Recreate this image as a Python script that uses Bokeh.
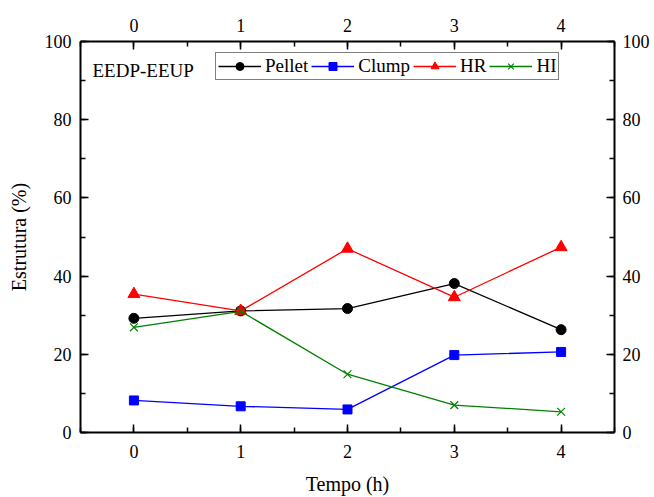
from bokeh.plotting import figure
from bokeh.models import (LinearAxis, SingleIntervalTicker, Range1d, Label,
                          Legend, LegendItem)
from bokeh.embed import file_html
from bokeh.resources import INLINE

# Structure fractions (%) over time (h)
tempo = [0, 1, 2, 3, 4]
pellet = [29.2, 31.1, 31.7, 38.1, 26.3]
clump = [8.2, 6.7, 5.9, 19.8, 20.6]
hr = [35.4, 31.1, 47.0, 34.6, 47.4]
hi = [26.9, 31.0, 14.9, 7.0, 5.3]

FONT = "Liberation Serif"

p = figure(width=654, height=497, output_backend="svg", toolbar_location=None,
           x_range=Range1d(-0.5, 4.5), y_range=Range1d(0, 100),
           min_border_left=80, min_border_right=40, min_border_top=41,
           min_border_bottom=63, x_axis_location=None, y_axis_location=None)
p.xgrid.visible = False
p.ygrid.visible = False
p.outline_line_color = None
p.background_fill_color = "white"


def style_axis(ax, interval):
    ax.ticker = SingleIntervalTicker(interval=interval, num_minor_ticks=2)
    ax.axis_line_width = 2
    ax.axis_line_color = "black"
    ax.major_tick_in = 8
    ax.major_tick_out = 0
    ax.minor_tick_in = 5
    ax.minor_tick_out = 0
    ax.major_tick_line_width = 1.5
    ax.minor_tick_line_width = 1.5
    ax.major_label_text_font = FONT
    ax.major_label_text_font_size = "18px"
    ax.major_label_text_color = "black"
    ax.axis_label_text_font = FONT
    ax.axis_label_text_font_size = "20px"
    ax.axis_label_text_font_style = "normal"
    ax.axis_label_text_color = "black"
    ax.major_label_standoff = 9


bottom = LinearAxis(axis_label="Tempo (h)")
style_axis(bottom, 1)
bottom.major_label_standoff = 12
bottom.axis_label_standoff = 12
top = LinearAxis()
style_axis(top, 1)
top.major_label_standoff = 10
left = LinearAxis(axis_label="Estrutura (%)")
style_axis(left, 20)
left.axis_label_standoff = 12
right = LinearAxis()
style_axis(right, 20)
right.major_label_standoff = 8

p.add_layout(bottom, "below")
p.add_layout(top, "above")
p.add_layout(left, "left")
p.add_layout(right, "right")

series = [
    ("Pellet", pellet, "black", "circle", 10),
    ("Clump", clump, "blue", "square", 9),
    ("HR", hr, "red", "triangle", 12),
    ("HI", hi, "green", "x", 11),
]

items = []
for name, vals, color, marker, size in series:
    ln = p.line(tempo, vals, line_color=color, line_width=1.3)
    if marker == "x":
        sc = p.scatter(tempo, vals, marker=marker, size=size, line_color=color,
                       line_width=1.2)
    else:
        sc = p.scatter(tempo, vals, marker=marker, size=size, fill_color=color,
                       line_color=color)
    items.append(LegendItem(label=name, renderers=[ln, sc]))

legend = Legend(items=items, orientation="horizontal", location=(135, 352),
                label_text_font=FONT, label_text_font_size="19px",
                label_text_color="black", glyph_width=43, glyph_height=20,
                label_standoff=4, spacing=3, padding=2, margin=0,
                label_height=20,
                border_line_color="black", border_line_width=1.2,
                background_fill_alpha=1.0)
p.add_layout(legend, "center")

p.add_layout(Label(x=12, y=362, x_units="screen", y_units="screen",
                   text="EEDP-EEUP", text_font=FONT, text_font_size="19px",
                   text_baseline="alphabetic", text_color="black"))

open("out.html", "w").write(file_html(p, INLINE))
